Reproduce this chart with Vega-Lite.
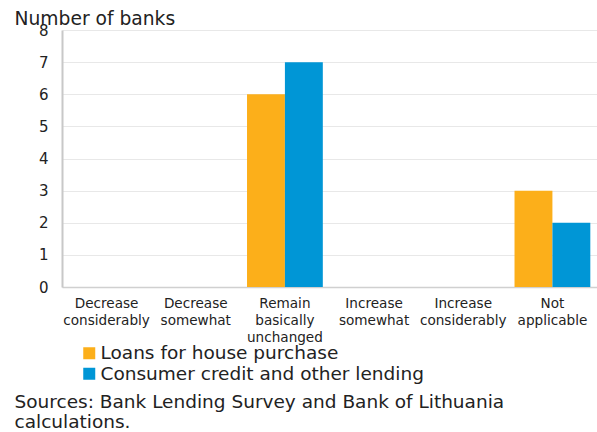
{
  "$schema": "https://vega.github.io/schema/vega-lite/v6.json",
  "width": 535,
  "height": 257,
  "autosize": {"type": "none"},
  "padding": {"left": 62, "top": 30, "right": 0, "bottom": 145},
  "config": {
    "font": "DejaVu Sans",
    "view": {"stroke": null},
    "background": "white"
  },
  "data": {
    "values": [
      {"category": "Decrease considerably", "series": "Loans for house purchase", "banks": 0},
      {"category": "Decrease considerably", "series": "Consumer credit and other lending", "banks": 0},
      {"category": "Decrease somewhat", "series": "Loans for house purchase", "banks": 0},
      {"category": "Decrease somewhat", "series": "Consumer credit and other lending", "banks": 0},
      {"category": "Remain basically unchanged", "series": "Loans for house purchase", "banks": 6},
      {"category": "Remain basically unchanged", "series": "Consumer credit and other lending", "banks": 7},
      {"category": "Increase somewhat", "series": "Loans for house purchase", "banks": 0},
      {"category": "Increase somewhat", "series": "Consumer credit and other lending", "banks": 0},
      {"category": "Increase considerably", "series": "Loans for house purchase", "banks": 0},
      {"category": "Increase considerably", "series": "Consumer credit and other lending", "banks": 0},
      {"category": "Not applicable", "series": "Loans for house purchase", "banks": 3},
      {"category": "Not applicable", "series": "Consumer credit and other lending", "banks": 2}
    ]
  },
  "mark": {"type": "bar"},
  "encoding": {
    "x": {
      "field": "category",
      "type": "nominal",
      "sort": null,
      "scale": {"paddingInner": 0.15, "paddingOuter": 0.075},
      "axis": {
        "labelAngle": 0,
        "labelExpr": "split(datum.value, ' ')",
        "labelFontSize": 13.6,
        "labelLineHeight": 17,
        "labelColor": "#222",
        "labelPadding": 9,
        "ticks": false,
        "domainColor": "#d0d0d0",
        "domainWidth": 1.5,
        "labelBaseline": "top",
        "title": ["Sources: Bank Lending Survey and Bank of Lithuania", "calculations."],
        "titleFontSize": 18.5,
        "titleFontWeight": "normal",
        "titleColor": "#222",
        "titleLineHeight": 20,
        "titleAnchor": "start",
        "titleAlign": "left",
        "titleBaseline": "top",
        "titleX": -48,
        "titleY": 105
      }
    },
    "xOffset": {"field": "series", "type": "nominal", "sort": ["Loans for house purchase", "Consumer credit and other lending"]},
    "y": {
      "field": "banks",
      "type": "quantitative",
      "scale": {"domain": [0, 8], "nice": false},
      "axis": {
        "values": [0, 1, 2, 3, 4, 5, 6, 7, 8],
        "labelFontSize": 15,
        "labelColor": "#222",
        "labelPadding": 14,
        "ticks": false,
        "domainColor": "#c8c8c8",
        "domainWidth": 2,
        "gridColor": "#e8e8e8",
        "gridWidth": 1,
        "title": "Number of banks",
        "titleAngle": 0,
        "titleAlign": "left",
        "titleBaseline": "alphabetic",
        "titleFontSize": 18.7,
        "titleFontWeight": "normal",
        "titleColor": "#222",
        "titleX": -48,
        "titleY": -6
      }
    },
    "color": {
      "field": "series",
      "type": "nominal",
      "sort": ["Loans for house purchase", "Consumer credit and other lending"],
      "scale": {"domain": ["Loans for house purchase", "Consumer credit and other lending"], "range": ["#FCAF1A", "#0096D6"]},
      "legend": {
        "orient": "none",
        "legendX": 18,
        "legendY": 314,
        "title": null,
        "direction": "vertical",
        "symbolType": "square",
        "symbolSize": 144,
        "symbolStrokeWidth": 0,
        "labelFontSize": 18.5,
        "labelColor": "#222",
        "labelOffset": 2,
        "rowPadding": 1.5,
        "labelLimit": 500
      }
    }
  }
}
